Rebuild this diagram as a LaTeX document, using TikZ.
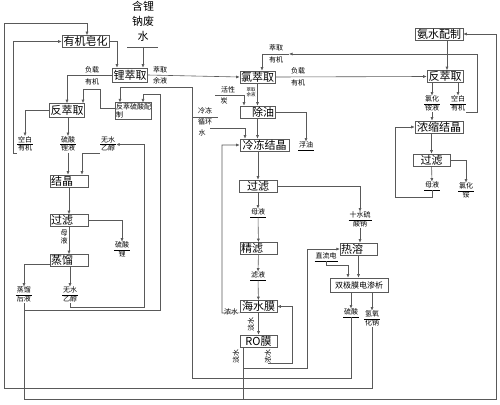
\documentclass[tikz,border=0pt]{standalone}
\usepackage{fontspec}
\newfontfamily\cjk{Noto Sans CJK SC}
\usetikzlibrary{
  arrows.meta,
  positioning
}
\setlength{\tabcolsep}{1pt}
\renewcommand{\arraystretch}{0.85}
\newcommand{\duo}[2]{\begin{tabular}{c}#1\\\hline #2\end{tabular}}
\newcommand{\uln}[1]{\begin{tabular}{c}#1\\\hline\end{tabular}}

\begin{document}
\begin{tikzpicture}[x=1pt,y=-1pt,
  proc/.style={draw=black!65, line width=0.6pt, inner sep=0.8pt,
    minimum height=12pt, font=\cjk\fontsize{11}{11}\selectfont},
  lproc/.style={proc, align=left},
  tag/.style={inner sep=0pt, font=\cjk\fontsize{7}{8}\selectfont},
  flow/.style={draw=black!65, line width=0.6pt, -{Latex[length=3.5pt,width=3pt]}},
  wire/.style={draw=black!65, line width=0.6pt}
]
\useasboundingbox (0,0) rectangle (500,404);

% process boxes
\node[proc, minimum width=47pt] (zaohua) at (85.5,41.5) {有机皂化};
\node[proc, minimum width=34pt, minimum height=14pt] (licui) at (130,75) {锂萃取};
\node[draw=black!65, line width=0.6pt, tag, text width=34pt, minimum height=16pt, align=left, inner sep=1pt] (peizhi) at (133,111) {反萃硫酸配\\制};
\node[proc, minimum width=30pt, minimum height=14pt] (fancuiL) at (67,110.5) {反萃取};
\node[lproc, text width=36pt] (jiejing) at (69,181) {结晶};
\node[lproc, text width=36pt] (guolvL) at (69,220.5) {过滤};
\node[lproc, text width=36pt] (zhengliu) at (69,260.5) {蒸馏};
\node[proc, minimum width=35pt] (lvcui) at (257.5,77) {氯萃取};
\node[proc, text width=33pt, align=right] (chuyou) at (257.5,112) {除油};
\node[proc, minimum width=49pt] (lengdong) at (264.5,145) {冷冻结晶};
\node[proc, minimum width=38pt] (guolvM) at (258,186) {过滤};
\node[lproc, text width=35pt] (jinglv) at (258.5,248.5) {精滤};
\node[proc, minimum width=37pt] (haishui) at (258.5,306.5) {海水膜};
\node[proc, minimum width=37pt] (ro) at (258.5,341) {RO膜};
\node[lproc, text width=35pt] (rerong) at (358.5,249) {热溶};
\node[draw=black!65, line width=0.6pt, font=\cjk\fontsize{8}{8}\selectfont, minimum width=58pt, minimum height=14pt, inner sep=0.5pt] (shuangji) at (359,285) {双极膜电渗析};
\node[proc, minimum width=48pt] (anshui) at (439,34) {氨水配制};
\node[proc, minimum width=36pt] (fancuiR) at (445,76.5) {反萃取};
\node[proc, minimum width=48pt] (nongsuo) at (439,127) {浓缩结晶};
\node[proc, minimum width=37pt] (guolvR) at (431.5,160) {过滤};

% stream labels
\node[font=\cjk\fontsize{11}{15}\selectfont, align=center, inner sep=0pt, anchor=south] (feishui) at (143,42) {含锂\\钠废\\水};
\coordinate (feishuiL) at (127,47);
\coordinate (feishuiR) at (158,47);
\node[tag] (kongbaiL) at (25,144.5) {\duo{空白}{有机}};
\node[tag] (liuliye) at (68,144.5) {\duo{硫酸}{锂液}};
\node[tag] (yichunA) at (108,144.5) {\duo{无水}{乙醇}};
\node[tag] (liusuanli) at (122,250) {\duo{硫酸}{锂}};
\node[tag, align=center] (muyeL) at (64,237) {母\\液};
\node[tag] (houye) at (24,295) {\duo{蒸馏}{后液}};
\node[tag] (yichunB) at (70,295) {\duo{无水}{乙醇}};
\node[tag] (fuzaiA) at (92,70) {负载};
\node[tag] (youjiA) at (92,82) {有机};
\node[tag] (cuiquA) at (160,70) {萃取};
\node[tag] (yuyeA) at (160,81) {余液};
\node[tag] (cuiquB) at (276,48) {萃取};
\node[tag] (youjiB) at (276,60) {有机};
\node[tag] (fuzaiB) at (298,71) {负载};
\node[tag] (youjiC) at (298,83) {有机};
\node[tag, font=\cjk\fontsize{4.5}{5}\selectfont, align=center] (yuyeB) at (251,92) {萃取\\余液};
\node[tag] (huoxing) at (228,90) {活性};
\node[tag] (tan) at (224,101) {炭};
\node[tag] (lengdongA) at (205,111) {冷冻};
\node[tag] (xunhuan) at (205,122) {循环};
\node[tag] (shui) at (202,133) {水};
\node[tag] (fuyou) at (306,146) {\uln{浮油}};
\node[tag] (muyeM) at (258,213) {\uln{母液}};
\node[tag] (shishui) at (360,220) {\duo{十水硫}{酸钠}};
\node[tag] (lvye) at (258,276) {\uln{滤液}};
\node[tag] (zhiliu) at (326,257) {\uln{直流电}};
\node[tag] (nongshuiA) at (231,312) {浓水};
\node[tag, rotate=90] (danshuiA) at (251,324) {淡水};
\node[tag, rotate=90] (danshuiB) at (236,356) {淡水};
\node[tag, rotate=90] (nongshuiB) at (268,356) {浓水};
\node[tag] (liusuan) at (351,313) {\uln{硫酸}};
\node[tag] (qingyang) at (372,319) {\duo{氢氧}{化钠}};
\node[tag] (lvhuaye) at (432,104) {\duo{氯化}{铵液}};
\node[tag] (kongbaiR) at (458,104) {\duo{空白}{有机}};
\node[tag] (muyeR) at (432,186) {\uln{母液}};
\node[tag] (lvhuaan) at (466,191) {\duo{氯化}{铵}};
\coordinate (tanin) at (215,95);
\coordinate (lengin) at (193,117);

% left branch
\draw[wire] (feishuiL) -- (feishuiR);
\draw[flow] (feishui.south |- feishuiL) -- (feishui.south |- licui.north);
\draw[flow] (zaohua.east) -| ([xshift=-13pt]licui.north);
\draw[flow] (licui.west) -| (fancuiL.north);
\draw[flow] ([yshift=3pt]peizhi.west) -- (100,108) |- (83,89) -- ([xshift=16pt]fancuiL.north);
\draw[flow] (fancuiL.west) -| (kongbaiL.north);
\draw[flow] (kongbaiL.south west) -| (13,41.5) -- (zaohua.west);
\draw[flow] (liuliye.north |- fancuiL.south) -- (liuliye.north);
\draw[flow] (liuliye.south) -- (liuliye.south |- jiejing.north);
\draw[flow] (yichunA.south west) -| ([xshift=13pt]jiejing.north);
\draw[flow] (jiejing) -- (guolvL);
\draw[flow] (guolvL.east) -| (liusuanli.north);
\draw[flow] (guolvL) -- (zhengliu);
\draw[flow] ([yshift=-4pt]zhengliu.west) -| (houye.north);
\draw[flow] (yichunB.north |- zhengliu.south) -- (yichunB.north);
\draw[flow] (yichunB.south) |- (144,307) |- (yichunA.east);
\draw[flow] (houye.south) |- (496,399) |- (anshui.east);
\draw[flow] (24,310) -| (160,94) -| ([xshift=10pt]peizhi.north);

% middle branch
\draw[flow] (licui.east) -- (lvcui.west);
\draw[flow] (kongbaiR.south east) -| (477,54) -- (289,54);
\draw[wire] (289,54) -- (262,54);
\draw[flow] (262,54) -- (lvcui.north -| 262,0);
\draw[flow] (lvcui.east) -- (fancuiR.west);
\draw[flow] (lvcui) -- (chuyou);
\draw[flow] (tanin) -| ([xshift=-13.5pt]chuyou.north);
\draw[wire] (lengin) -- (218,117);
\draw[flow] (210,128) -| ([xshift=-19.5pt]lengdong.north);
\draw[flow] (chuyou.south) -- (chuyou.south |- lengdong.north);
\draw[flow] (chuyou.east) -| (fuyou.north);
\draw[flow] (guolvM.north |- lengdong.south) -- (guolvM.north);
\draw[flow] (guolvM) -- (muyeM);
\draw[flow] (muyeM) -- (jinglv);
\draw[flow] (guolvM.east) -| (shishui.north);
\draw[flow] (shishui.south) -- (shishui.south |- rerong.north);
\draw[flow] (jinglv) -- (lvye);
\draw[flow] (lvye) -- (haishui);
\draw[flow] (haishui) -- (ro);
\draw[flow] (haishui.south west) -- (222,313) |- (lengdong.west);
\draw[flow] (nongshuiB.west) -| (292,306.5) -- (haishui.east);
\draw[wire] ([xshift=-15.5pt]ro.south) -- (243,399);
\draw[flow] (243,368) -| (307,249) -- (rerong.west);
\draw[flow] (rerong.south) -- (rerong.south |- shuangji.north);
\draw[flow] (zhiliu.south) -- ++(0,4) -| ([xshift=-11pt]shuangji.north);
\draw[flow] ([xshift=-8pt]shuangji.south) -- ([xshift=-8pt]shuangji.south |- liusuan.north);
\draw[flow] ([xshift=13pt]shuangji.south) -- ([xshift=13pt]shuangji.south |- qingyang.north);
\draw[flow] (liusuan.south) |- (192,378) |- (120,87) -- ([xshift=-13pt]peizhi.north);
\draw[flow] (qingyang.south) |- (4,388) |- (87,23) -- ([xshift=1.5pt]zaohua.north);

% right branch
\draw[flow] ([xshift=8pt]anshui.south) -- ([xshift=8pt]anshui.south |- fancuiR.north);
\draw[flow] (lvhuaye.north |- fancuiR.south) -- (lvhuaye.north);
\draw[flow] (kongbaiR.north |- fancuiR.south) -- (kongbaiR.north);
\draw[flow] (lvhuaye.south) -- (lvhuaye.south |- nongsuo.north);
\draw[flow] (guolvR.north |- nongsuo.south) -- (guolvR.north);
\draw[flow] (guolvR) -- (muyeR);
\draw[flow] (muyeR.south) |- (395,197) |- (nongsuo.west);
\draw[flow] (guolvR.east) -| (lvhuaan.north);
\end{tikzpicture}
\end{document}
